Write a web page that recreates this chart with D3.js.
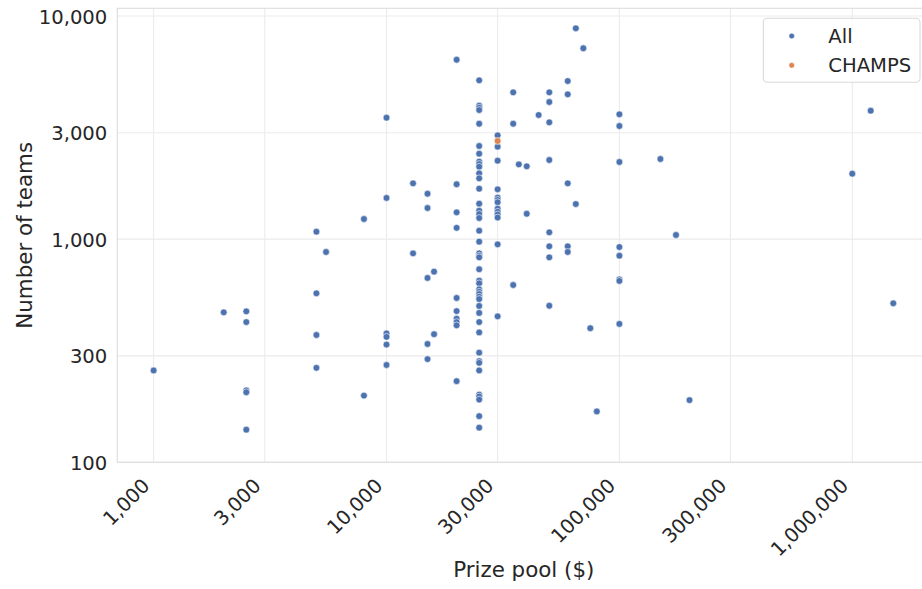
<!DOCTYPE html>
<html>
<head>
<meta charset="utf-8">
<script src="https://cdn.jsdelivr.net/npm/d3@7"></script>
<style>
  html, body { margin: 0; padding: 0; background: #fff; }
  svg { display: block; font-family: "DejaVu Sans", sans-serif; }
</style>
</head>
<body>
<svg id="chart" width="922" height="589"></svg>
<script>
// ---- data ----
const allPrize = [
  1000, 2000, 2500, 2500, 2500, 2500, 2500,
  5000, 5000, 5000, 5000, 5500, 8000, 8000,
  10000, 10000, 10000, 10000, 10000, 10000,
  13000, 13000, 15000, 15000, 15000, 15000, 15000, 16000, 16000,
  20000, 20000, 20000, 20000, 20000, 20000, 20000, 20000, 20000, 20000,
  25000, 25000, 25000, 25000, 25000, 25000, 25000, 25000, 25000, 25000,
  25000, 25000, 25000, 25000, 25000, 25000, 25000, 25000, 25000, 25000,
  25000, 25000, 25000, 25000, 25000, 25000, 25000, 25000, 25000, 25000,
  25000, 25000, 25000, 25000, 25000, 25000, 25000, 25000, 25000, 25000,
  25000, 25000, 25000,
  30000, 30000, 30000, 30000, 30000, 30000, 30000, 30000, 30000, 30000,
  30000, 30000, 30000,
  35000, 35000, 35000, 37000, 40000, 40000, 45000,
  50000, 50000, 50000, 50000, 50000, 50000, 50000, 50000,
  60000, 60000, 60000, 60000, 60000, 65000, 65000, 70000, 75000, 80000,
  100000, 100000, 100000, 100000, 100000, 100000, 100000, 100000,
  150000, 175000, 200000, 1000000, 1200000, 1500000
];
const allTeams = [
  258, 470, 475, 425, 210, 206, 140,
  1080, 572, 372, 265, 876, 1231, 199,
  3502, 1530, 378, 365, 337, 273,
  1779, 864, 1598, 1379, 670, 339, 290, 715, 375,
  6370, 1762, 1319, 1124, 545, 476, 440, 425, 411, 231,
  5151, 3963, 3882, 3792, 3291, 2615, 2415, 2224, 2172, 2112,
  1973, 1874, 1683, 1442, 1341, 1296, 1244, 1091, 974, 864,
  843, 829, 733, 651, 634, 596, 581, 568, 552, 539,
  502, 467, 425, 382, 310, 284, 279, 258, 201, 197,
  191, 161, 143,
  2920, 2596, 2247, 1673, 1534, 1498, 1463, 1370, 1327, 1290,
  1250, 948, 451,
  4550, 3291, 623, 2164, 2121, 1300, 3600,
  4550, 4118, 3339, 2263, 1073, 929, 829, 503,
  5113, 4457, 1779, 929, 876, 8810, 1437, 7170, 399, 169,
  3627, 3214, 2217, 922, 843, 660, 650, 417,
  2287, 1044, 190, 1965, 3764, 516
];
const champsPrize = [30000];
const champsTeams = [2754];

const xTicks = [1000, 3000, 10000, 30000, 100000, 300000, 1000000];
const yTicks = [100, 300, 1000, 3000, 10000];
const seriesNames = ["All", "CHAMPS"];
const seriesColors = ["#4c72b0", "#dd8452"];

// ---- layout ----
const svg = d3.select("#chart");
const pLeft = 117.3, pRight = 930.3, pTop = 8.3, pBottom = 462.3;
const textColor = "#262626";
const tickFont = 19.6, labelFont = 21.4;

const x = d3.scaleLog().domain([698.2, 2163000]).range([pLeft, pRight]);
const y = d3.scaleLog().domain([100, 10830]).range([pBottom, pTop]);
const fmt = d3.format(",");

// grid
const grid = svg.append("g");
grid.selectAll("line.gx").data(xTicks).join("line")
  .attr("x1", d => x(d)).attr("x2", d => x(d))
  .attr("y1", pTop).attr("y2", pBottom)
  .attr("stroke", "#ebebeb").attr("stroke-width", 1.1);
grid.selectAll("line.gy").data(yTicks).join("line")
  .attr("x1", pLeft).attr("x2", pRight)
  .attr("y1", d => y(d)).attr("y2", d => y(d))
  .attr("stroke", "#ebebeb").attr("stroke-width", 1.1);

// frame
svg.append("rect")
  .attr("x", pLeft).attr("y", pTop)
  .attr("width", pRight - pLeft).attr("height", pBottom - pTop)
  .attr("fill", "none").attr("stroke", "#dcdcdc").attr("stroke-width", 1.1);

// axes (ticks via d3 axes, no tick marks / domain)
const xAxis = svg.append("g")
  .attr("transform", `translate(0,${pBottom})`)
  .call(d3.axisBottom(x).tickValues(xTicks).tickFormat(fmt).tickSize(0));
xAxis.select(".domain").remove();
xAxis.selectAll("text")
  .attr("font-family", "DejaVu Sans").attr("font-size", tickFont)
  .attr("fill", textColor)
  .attr("text-anchor", "end")
  .attr("dy", null).attr("y", null)
  .attr("transform", "translate(-3.3,24.7) rotate(-45)");

const yAxis = svg.append("g")
  .attr("transform", `translate(${pLeft},0)`)
  .call(d3.axisLeft(y).tickValues(yTicks).tickFormat(fmt).tickSize(0).tickPadding(10));
yAxis.select(".domain").remove();
yAxis.selectAll("text")
  .attr("font-family", "DejaVu Sans").attr("font-size", tickFont)
  .attr("fill", textColor).attr("dy", "0.36em");

// axis labels
svg.append("text")
  .attr("x", 523.8).attr("y", 576.5)
  .attr("text-anchor", "middle")
  .attr("font-size", labelFont).attr("fill", textColor)
  .text("Prize pool ($)");
svg.append("text")
  .attr("transform", `translate(31.5,${(pTop + pBottom) / 2}) rotate(-90)`)
  .attr("text-anchor", "middle")
  .attr("font-size", labelFont).attr("fill", textColor)
  .text("Number of teams");

// points
const allData = allPrize.map((p, i) => ({ p, t: allTeams[i] }));
const champData = champsPrize.map((p, i) => ({ p, t: champsTeams[i] }));

svg.append("g").selectAll("circle").data(allData).join("circle")
  .attr("cx", d => x(d.p)).attr("cy", d => y(d.t)).attr("r", 3.4)
  .attr("fill", seriesColors[0]).attr("stroke", "#fff").attr("stroke-width", 0.6);
svg.append("g").selectAll("circle").data(champData).join("circle")
  .attr("cx", d => x(d.p)).attr("cy", d => y(d.t)).attr("r", 3.4)
  .attr("fill", seriesColors[1]).attr("stroke", "#fff").attr("stroke-width", 0.6);

// legend
const lg = svg.append("g");
lg.append("rect")
  .attr("x", 763.3).attr("y", 18.3).attr("width", 156.7).attr("height", 64)
  .attr("rx", 4).attr("fill", "#fff").attr("fill-opacity", 0.8)
  .attr("stroke", "#d9d9d9").attr("stroke-width", 1.1);
seriesNames.forEach((name, i) => {
  const cy = 36 + i * 29.3;
  lg.append("circle").attr("cx", 791.7).attr("cy", cy).attr("r", 2.8)
    .attr("fill", seriesColors[i]).attr("stroke", "#fff").attr("stroke-width", 0.5);
  lg.append("text").attr("x", 828.3).attr("y", cy).attr("dy", "0.36em")
    .attr("font-size", tickFont).attr("fill", textColor).text(name);
});
</script>
</body>
</html>
